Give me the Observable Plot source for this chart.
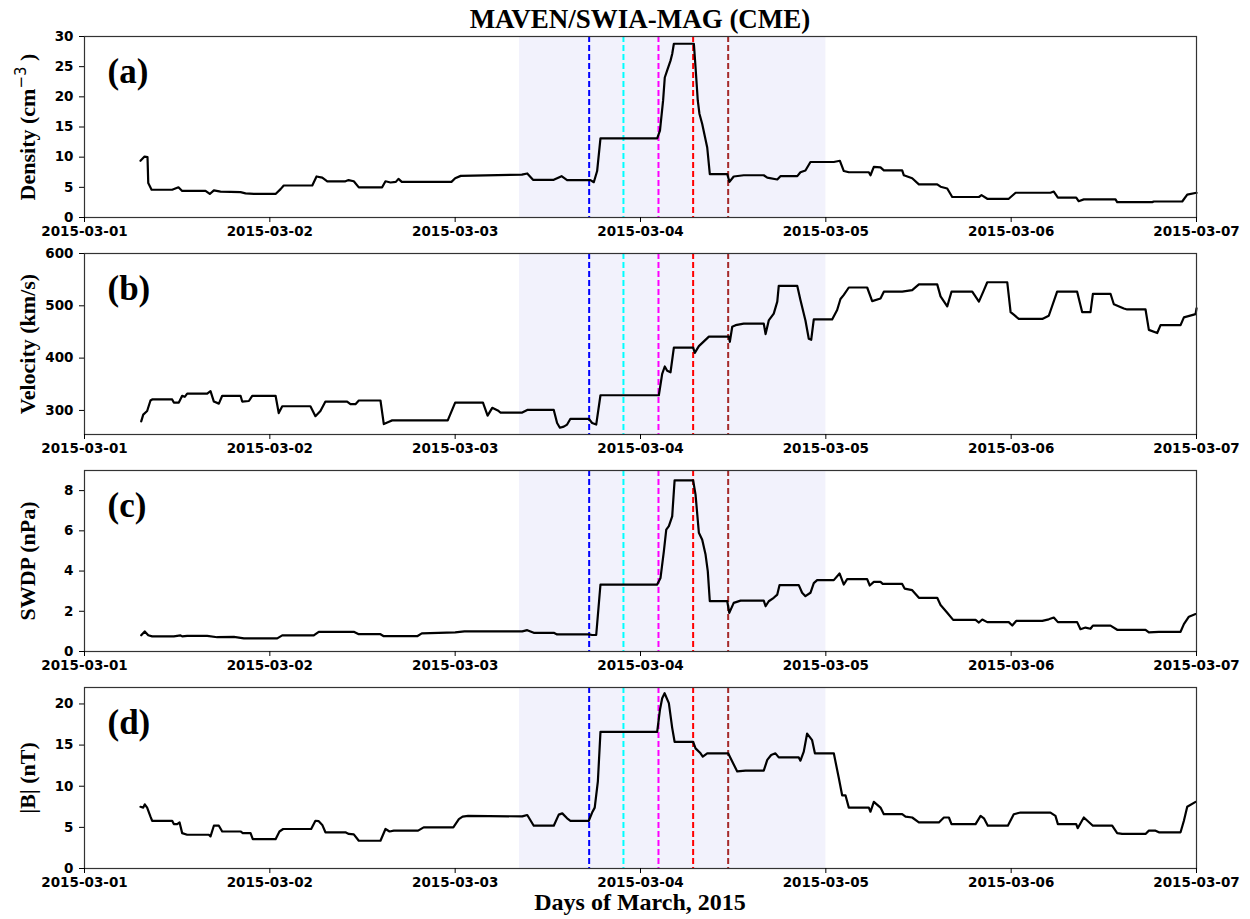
<!DOCTYPE html>
<html><head><meta charset="utf-8">
<script src="https://cdn.jsdelivr.net/npm/d3@7"></script>
<script src="https://cdn.jsdelivr.net/npm/@observablehq/plot@0.6"></script>
<style>
html,body{margin:0;padding:0;background:#fff;overflow:hidden}
#wrap{position:relative;width:1250px;height:919px;background:#fff}
#panels svg{display:block;overflow:visible}
#title,#xlabel{display:block;overflow:visible;position:relative;z-index:2}
</style></head><body>
<div id="wrap">
  <svg id="title" width="1250" height="30"></svg>
  <div id="panels"></div>
  <svg id="xlabel" width="1250" height="21"></svg>
</div>
<script>
const titleText = "MAVEN/SWIA-MAG (CME)";
const xLabelText = "Days of March, 2015";
const xTickLabels = ["2015-03-01","2015-03-02","2015-03-03","2015-03-04","2015-03-05","2015-03-06","2015-03-07"];
// time = days after 2015-03-01 00:00 UTC
const shadeInterval = [2.347, 4.0];
const eventTimes = [2.723, 2.908, 3.097, 3.284, 3.473];
const eventColors = ["#0000ff", "#00ffff", "#ff00ff", "#ff0000", "#a52a2a"];

const tDensity = [0.302,0.324,0.340,0.344,0.362,0.473,0.507,0.527,0.653,0.676,0.698,0.734,0.842,0.869,0.914,1.031,1.058,1.075,1.229,1.252,1.283,1.310,1.408,1.425,1.453,1.480,1.606,1.624,1.651,1.680,1.694,1.712,1.980,2.000,2.030,2.360,2.389,2.420,2.532,2.574,2.604,2.730,2.748,2.766,2.784,3.090,3.105,3.122,3.131,3.144,3.162,3.171,3.180,3.288,3.297,3.309,3.318,3.333,3.360,3.374,3.468,3.480,3.503,3.557,3.665,3.684,3.738,3.755,3.846,3.863,3.890,3.917,4.043,4.076,4.097,4.124,4.232,4.241,4.259,4.295,4.313,4.412,4.421,4.466,4.502,4.601,4.619,4.655,4.682,4.826,4.840,4.871,4.987,5.024,5.212,5.230,5.252,5.351,5.364,5.392,5.563,5.572,5.761,5.770,5.923,5.950,6.000];
const density = [9.4,10.1,10.0,5.7,4.6,4.6,5.0,4.4,4.4,3.9,4.5,4.3,4.2,4.0,3.9,3.9,4.7,5.3,5.3,6.8,6.6,6.0,6.0,6.2,6.0,5.0,5.0,6.0,5.8,5.9,6.4,5.9,5.9,6.5,6.9,7.1,7.3,6.25,6.25,6.85,6.2,6.2,5.85,7.7,13.1,13.1,14.4,19.4,23.2,24.4,26.0,27.1,28.8,28.8,24.9,19.4,17.2,15.5,11.6,7.2,7.2,5.9,6.8,7.0,7.0,6.6,6.3,6.85,6.85,7.5,7.8,9.2,9.2,9.4,7.7,7.5,7.5,7.0,8.4,8.3,7.8,7.8,7.0,6.5,5.5,5.5,5.1,4.8,3.4,3.4,3.7,3.1,3.1,4.1,4.1,4.3,3.3,3.3,2.7,3.0,3.0,2.55,2.55,2.65,2.65,3.8,4.1];

const tVelocity = [0.306,0.317,0.338,0.356,0.365,0.473,0.482,0.509,0.527,0.541,0.554,0.662,0.680,0.698,0.725,0.743,0.842,0.851,0.887,0.905,1.031,1.048,1.067,1.219,1.246,1.273,1.300,1.417,1.435,1.462,1.480,1.597,1.615,1.640,1.660,1.960,2.000,2.150,2.175,2.200,2.230,2.245,2.362,2.389,2.532,2.550,2.565,2.586,2.604,2.622,2.721,2.739,2.761,2.784,3.099,3.117,3.131,3.144,3.162,3.180,3.284,3.293,3.315,3.342,3.369,3.477,3.482,3.495,3.513,3.557,3.665,3.675,3.692,3.719,3.738,3.746,3.846,3.863,3.890,3.908,3.921,3.935,4.034,4.061,4.079,4.097,4.124,4.223,4.250,4.295,4.313,4.412,4.466,4.502,4.601,4.619,4.655,4.678,4.790,4.826,4.853,4.871,4.979,4.997,5.014,5.041,5.168,5.203,5.248,5.356,5.383,5.428,5.441,5.536,5.554,5.608,5.626,5.725,5.743,5.788,5.806,5.914,5.932,5.995,6.000];
const velocity = [279,292,299,319,321,321,315,315,328,326,332,332,337,317,313,328,328,317,318,328,328,295,308,308,289,299,317,317,312,312,319,319,274,278,281,281,315,315,290,305,300,296,296,301,301,276,267,269,273,284,284,276,273,329,329,370,384,376,373,420,420,410,423,432,441,441,431,460,463,466,466,446,472,485,508,538,538,511,472,437,435,474,474,492,513,521,535,535,509,514,527,527,530,541,541,518,499,527,527,508,530,545,545,488,483,475,475,481,527,527,488,488,523,523,503,495,493,493,454,448,463,463,478,484,495];

const tPressure = [0.306,0.325,0.344,0.365,0.482,0.518,0.527,0.554,0.662,0.716,0.806,0.860,1.040,1.067,1.237,1.264,1.453,1.480,1.597,1.615,1.795,1.820,2.000,2.050,2.362,2.389,2.424,2.532,2.550,2.721,2.739,2.761,2.784,3.090,3.108,3.126,3.139,3.153,3.171,3.184,3.284,3.297,3.315,3.333,3.351,3.363,3.374,3.468,3.479,3.503,3.540,3.665,3.675,3.692,3.719,3.738,3.750,3.854,3.872,3.890,3.917,3.935,3.953,4.043,4.074,4.097,4.115,4.223,4.237,4.259,4.295,4.307,4.412,4.425,4.466,4.502,4.601,4.619,4.655,4.687,4.808,4.826,4.844,4.871,4.987,5.006,5.027,5.168,5.203,5.230,5.252,5.356,5.374,5.401,5.428,5.441,5.536,5.572,5.725,5.743,5.797,5.914,5.932,5.959,5.995];
const pressure = [0.81,1.0,0.81,0.75,0.75,0.8,0.75,0.78,0.78,0.71,0.73,0.65,0.65,0.8,0.8,0.98,0.98,0.86,0.86,0.76,0.76,0.9,0.95,1.0,1.0,1.06,0.93,0.93,0.85,0.85,0.82,0.82,3.33,3.33,3.66,4.98,6.06,6.23,6.72,8.51,8.51,7.8,5.9,5.56,4.82,4.0,2.5,2.5,1.92,2.42,2.53,2.53,2.25,2.5,2.67,2.83,3.3,3.3,2.92,2.75,2.92,3.4,3.55,3.55,3.88,3.33,3.6,3.6,3.28,3.46,3.46,3.36,3.36,3.13,3.05,2.67,2.67,2.31,1.93,1.57,1.57,1.44,1.59,1.46,1.46,1.29,1.52,1.52,1.6,1.69,1.46,1.46,1.11,1.19,1.13,1.29,1.29,1.08,1.08,0.95,0.98,0.98,1.36,1.73,1.86];

const tBmag = [0.302,0.317,0.325,0.338,0.356,0.365,0.473,0.482,0.500,0.513,0.527,0.554,0.671,0.680,0.698,0.725,0.743,0.842,0.854,0.896,0.908,1.031,1.052,1.072,1.223,1.246,1.264,1.283,1.300,1.408,1.426,1.453,1.480,1.597,1.624,1.646,1.669,1.800,1.830,1.990,2.020,2.040,2.070,2.362,2.389,2.424,2.532,2.559,2.578,2.604,2.622,2.721,2.739,2.753,2.770,2.784,3.090,3.105,3.117,3.130,3.153,3.171,3.184,3.284,3.297,3.324,3.336,3.360,3.473,3.495,3.522,3.567,3.665,3.684,3.705,3.728,3.746,3.854,3.863,3.881,3.899,3.926,3.941,4.043,4.070,4.088,4.106,4.124,4.232,4.241,4.259,4.295,4.313,4.412,4.430,4.466,4.502,4.610,4.637,4.664,4.678,4.808,4.835,4.853,4.874,4.982,5.014,5.050,5.212,5.239,5.252,5.351,5.359,5.392,5.441,5.545,5.572,5.599,5.725,5.743,5.779,5.797,5.914,5.932,5.950,5.995];
const bmag = [7.5,7.4,7.8,7.4,6.3,5.8,5.8,5.4,5.4,5.6,4.3,4.1,4.1,3.9,5.2,5.2,4.5,4.5,4.3,4.3,3.57,3.57,4.5,4.8,4.8,5.8,5.75,5.3,4.4,4.4,4.2,4.15,3.37,3.37,4.8,4.5,4.6,4.6,5.0,5.0,6.0,6.3,6.4,6.33,6.5,5.2,5.2,6.55,6.7,6.1,5.8,5.8,6.8,7.4,10.6,16.6,16.6,19.3,20.7,21.3,20.1,17.1,15.4,15.4,14.6,14.0,13.6,14.0,14.0,13.0,11.8,11.9,11.9,13.2,13.8,14.0,13.5,13.5,13.1,14.2,16.4,15.6,14.0,14.0,11.0,8.9,8.9,7.4,7.4,6.9,8.1,7.4,6.6,6.6,6.3,6.2,5.6,5.6,6.2,6.2,5.4,5.4,6.4,6.1,5.2,5.2,6.6,6.8,6.8,6.4,5.4,5.4,4.9,6.2,5.2,5.2,4.3,4.2,4.2,4.6,4.6,4.4,4.4,5.8,7.5,8.1];

const panelLetters = ["(a)", "(b)", "(c)", "(d)"];
const yLabels = ["Density (cm⁻³)", "Velocity (km/s)", "SWDP (nPa)", "|B| (nT)"];
const yDomains = [[0, 30], [254, 600], [0, 9], [0, 22]];
const yTicks = [[0,5,10,15,20,25,30], [300,400,500,600], [0,2,4,6,8], [0,5,10,15,20]];

const t0 = Date.UTC(2015, 2, 1);
const toDate = d => new Date(t0 + d * 864e5);
const xTicks = xTickLabels.map(s => new Date(s + "T00:00:00Z"));
const SVGNS = "http://www.w3.org/2000/svg";
const serif = "'Liberation Serif', 'Times New Roman', serif";

function panel(t, v, i) {
  const data = t.map((d, k) => ({date: toDate(d), value: v[k]}));
  const events = eventTimes.map((d, k) => ({date: toDate(d), color: eventColors[k]}));
  const svg = Plot.plot({
    width: 1250, height: 217,
    marginLeft: 84, marginRight: 54, marginTop: 6, marginBottom: 30,
    style: {fontFamily: "'DejaVu Sans', sans-serif", fontSize: "13.5px", fontWeight: "bold", color: "#000", background: "transparent", overflow: "visible"},
    x: {type: "utc", domain: [toDate(0), toDate(6)]},
    y: {domain: yDomains[i]},
    color: {type: "identity"},
    marks: [
      Plot.rect([{x1: toDate(shadeInterval[0]), x2: toDate(shadeInterval[1]), y1: yDomains[i][0], y2: yDomains[i][1]}],
        {x1: "x1", x2: "x2", y1: "y1", y2: "y2", fill: "#e6e6fa", fillOpacity: 0.5}),
      Plot.ruleX(events, {x: "date", stroke: "color", strokeWidth: 2, strokeDasharray: "6,3"}),
      Plot.line(data, {x: "date", y: "value", stroke: "#000", strokeWidth: 2.2}),
      Plot.frame({stroke: "#333", strokeWidth: 1.2}),
      Plot.axisX({ticks: xTicks, tickFormat: d3.utcFormat("%Y-%m-%d"), tickSize: 5, tickPadding: 4, label: null}),
      Plot.axisY({ticks: yTicks[i], tickSize: 5, tickPadding: 6, label: null}),
      Plot.text([panelLetters[i]], {frameAnchor: "top-left", dx: 23, dy: 46, text: d => d, fontFamily: serif, fontWeight: "bold", fontSize: 35, textAnchor: "start", lineAnchor: "bottom", fill: "#000"}),
      Plot.text([yLabels[i]], {frameAnchor: "left", dx: -57, rotate: -90, text: d => d, textAnchor: "middle", lineAnchor: "middle", fontFamily: serif, fontWeight: "bold", fontSize: 22, fill: "#000"})
    ]
  });
  // superscript for cm^-3
  svg.querySelectorAll("text").forEach(el => {
    if (el.textContent === "Density (cm⁻³)") {
      el.textContent = "Density (cm";
      const sup = document.createElementNS(SVGNS, "tspan");
      sup.setAttribute("dy", "-9");
      sup.setAttribute("font-family", "DejaVu Sans");
      sup.setAttribute("font-weight", "normal");
      sup.setAttribute("font-size", "15");
      sup.textContent = "−3";
      const close = document.createElementNS(SVGNS, "tspan");
      close.setAttribute("dy", "9");
      close.textContent = " )";
      el.appendChild(sup); el.appendChild(close);
    }
  });
  return svg;
}

const panels = document.getElementById("panels");
panels.appendChild(panel(tDensity, density, 0));
panels.appendChild(panel(tVelocity, velocity, 1));
panels.appendChild(panel(tPressure, pressure, 2));
panels.appendChild(panel(tBmag, bmag, 3));

function addText(svgId, str, x, y, size) {
  const s = document.getElementById(svgId);
  const tx = document.createElementNS(SVGNS, "text");
  tx.setAttribute("x", x); tx.setAttribute("y", y);
  tx.setAttribute("text-anchor", "middle");
  tx.setAttribute("font-family", serif);
  tx.setAttribute("font-weight", "bold");
  tx.setAttribute("font-size", size);
  tx.textContent = str;
  s.appendChild(tx);
}
addText("title", titleText, 640, 28, 27);
addText("xlabel", xLabelText, 640, 12, 24);
</script>
</body></html>
